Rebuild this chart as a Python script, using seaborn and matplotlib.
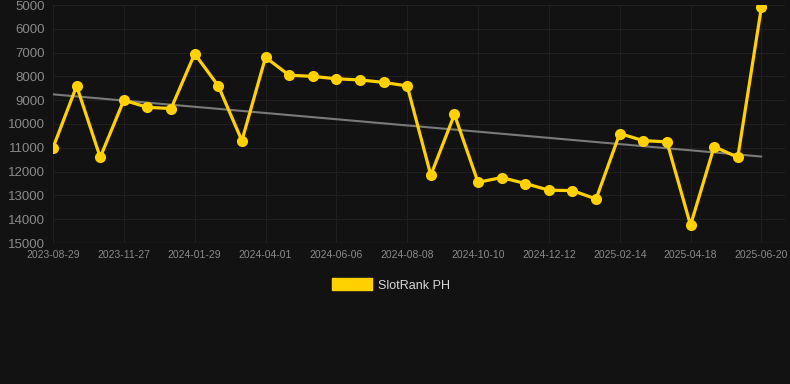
import numpy as np
import pandas as pd
import matplotlib
matplotlib.use("Agg")
import matplotlib.pyplot as plt
import seaborn as sns
from matplotlib.patches import Patch

# data
dates = ["2023-08-29", "2023-09-28", "2023-10-28", "2023-11-27", "2023-12-18",
         "2024-01-08", "2024-01-29", "2024-02-19", "2024-03-11", "2024-04-01",
         "2024-04-23", "2024-05-15", "2024-06-06", "2024-06-27", "2024-07-18",
         "2024-08-08", "2024-08-29", "2024-09-19", "2024-10-10", "2024-10-31",
         "2024-11-21", "2024-12-12", "2025-01-02", "2025-01-23", "2025-02-14",
         "2025-03-07", "2025-03-28", "2025-04-18", "2025-05-09", "2025-05-30",
         "2025-06-20"]
rank = [11000, 8400, 11400, 9000, 9300, 9350, 7050, 8400, 10700, 7200,
        7950, 8000, 8100, 8150, 8250, 8400, 12150, 9600, 12450, 12250,
        12500, 12780, 12800, 13150, 10400, 10700, 10750, 14250, 10950, 11400,
        5100]
series_name = "SlotRank PH"
y_ticks = list(range(5000, 15001, 1000))

bg = "#121212"
grid_c = "#1f1f1f"
text_c = "#8a8a8a"
yellow = "#FFD100"

df = pd.DataFrame({"pos": range(len(dates)), "date": dates, "rank": rank})

sns.set_style("dark", {"axes.facecolor": bg, "figure.facecolor": bg,
                       "grid.color": grid_c, "axes.edgecolor": bg})
plt.rcParams["font.family"] = ["Liberation Sans", "DejaVu Sans"]

fig = plt.figure(figsize=(7.9, 3.84), dpi=100)
ax = fig.add_axes([53 / 790, 1 - 243 / 384, (785 - 53) / 790, (243 - 5) / 384])

# trend line (least squares over the series)
k, b = np.polyfit(df["pos"], df["rank"], 1)
df["trend"] = k * df["pos"] + b
sns.lineplot(data=df, x="pos", y="trend", ax=ax, color="#7a7a7a", lw=1.5, zorder=2)

sns.lineplot(data=df, x="pos", y="rank", ax=ax, color=yellow, lw=2.3,
             marker="o", markersize=8, markeredgewidth=0, zorder=3)

ax.set_xlim(0, 31)
ax.set_ylim(15000, 5000)
ax.set_yticks(y_ticks)
ax.set_yticklabels([str(v) for v in y_ticks], color=text_c, fontsize=9.5)
tick_pos = list(range(0, len(dates), 3))
ax.set_xticks(tick_pos)
ax.set_xticklabels([dates[i] for i in tick_pos], color=text_c, fontsize=7.5)
ax.tick_params(axis="both", length=0, pad=5)
ax.tick_params(axis="y", pad=6)
ax.grid(True, color=grid_c, lw=0.8)
ax.axhline(15000, color="#2c2c2c", lw=1, zorder=1)
ax.set_xlabel("")
ax.set_ylabel("")
for s in ax.spines.values():
    s.set_visible(False)

fig.legend(handles=[Patch(facecolor=yellow, edgecolor=yellow, label=series_name)],
           loc="center", bbox_to_anchor=(391 / 790, 1 - 285 / 384), frameon=False,
           fontsize=9, labelcolor="#d8d8d8", handlelength=3.2, handleheight=1.1,
           handletextpad=0.5)

fig.savefig("out.png", dpi=100, facecolor=bg)
